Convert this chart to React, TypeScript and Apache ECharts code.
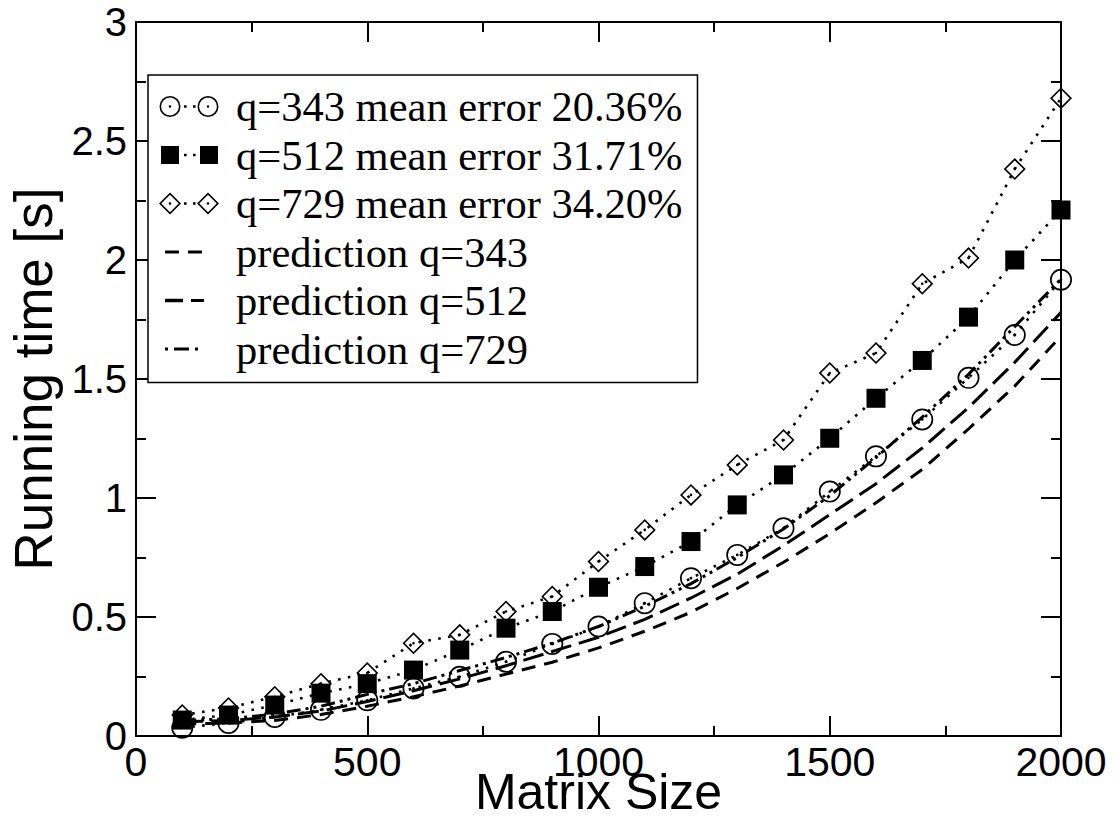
import React, { useEffect, useRef } from "react";
import * as echarts from "echarts";

const matrixSizes = [100, 200, 300, 400, 500, 600, 700, 800, 900, 1000, 1100, 1200, 1300, 1400, 1500, 1600, 1700, 1800, 1900, 2000];
const q343 = [0.035, 0.055, 0.08, 0.11, 0.15, 0.2, 0.249, 0.312, 0.387, 0.46, 0.558, 0.663, 0.761, 0.873, 1.027, 1.175, 1.33, 1.505, 1.685, 1.917];
const q512 = [0.067, 0.088, 0.13, 0.18, 0.22, 0.277, 0.361, 0.453, 0.523, 0.625, 0.712, 0.817, 0.971, 1.097, 1.251, 1.419, 1.578, 1.76, 2.0, 2.21];
const q729 = [0.088, 0.118, 0.165, 0.22, 0.265, 0.39, 0.425, 0.523, 0.586, 0.733, 0.866, 1.013, 1.139, 1.244, 1.525, 1.609, 1.9, 2.008, 2.382, 2.68];
const pred343 = [0.05, 0.055, 0.065, 0.09, 0.125, 0.165, 0.21, 0.26, 0.31, 0.37, 0.44, 0.52, 0.62, 0.73, 0.85, 0.98, 1.12, 1.29, 1.47, 1.68];
const pred512 = [0.06, 0.065, 0.08, 0.105, 0.145, 0.19, 0.24, 0.295, 0.355, 0.415, 0.49, 0.58, 0.68, 0.8, 0.93, 1.06, 1.21, 1.38, 1.57, 1.78];
const pred729 = [0.065, 0.072, 0.092, 0.125, 0.175, 0.22, 0.275, 0.33, 0.39, 0.46, 0.545, 0.64, 0.75, 0.87, 1.01, 1.17, 1.34, 1.52, 1.72, 1.92];

const seriesNames = [
  "q=343 mean error 20.36%",
  "q=512 mean error 31.71%",
  "q=729 mean error 34.20%",
  "prediction q=343",
  "prediction q=512",
  "prediction q=729",
];

// ---- symbol / icon shapes (styling only) ----
const ring = (cx: number, cy: number) =>
  `M${cx} ${cy - 10.5} A10.5 10.5 0 1 1 ${cx} ${cy + 10.5} A10.5 10.5 0 1 1 ${cx} ${cy - 10.5} Z ` +
  `M${cx} ${cy - 8.9} A8.9 8.9 0 1 0 ${cx} ${cy + 8.9} A8.9 8.9 0 1 0 ${cx} ${cy - 8.9} Z ` +
  `M${cx - 1.3} ${cy} A1.3 1.3 0 1 0 ${cx + 1.3} ${cy} A1.3 1.3 0 1 0 ${cx - 1.3} ${cy} Z`;
const diamond = (cx: number, cy: number) =>
  `M${cx} ${cy - 11} L${cx + 11} ${cy} L${cx} ${cy + 11} L${cx - 11} ${cy} Z ` +
  `M${cx} ${cy - 8.7} L${cx - 8.7} ${cy} L${cx} ${cy + 8.7} L${cx + 8.7} ${cy} Z ` +
  `M${cx - 1.3} ${cy} A1.3 1.3 0 1 0 ${cx + 1.3} ${cy} A1.3 1.3 0 1 0 ${cx - 1.3} ${cy} Z`;
const sq = (x0: number, y0: number, w: number, h: number) => `M${x0} ${y0} h${w} v${h} h${-w} Z `;
const specks = "M0 0 h0.05 v0.05 h-0.05 Z M71.95 21.95 h0.05 v0.05 h-0.05 Z ";
const dotsBetween = sq(25, 9.7, 2.6, 2.6) + sq(34, 9.7, 2.6, 2.6);

const iconCircle = "path://" + specks + ring(11, 11) + " " + dotsBetween + ring(49, 11);
const iconSquare = "path://" + specks + sq(2, 2, 18, 18) + dotsBetween + sq(41, 2, 18, 18);
const iconDiamond = "path://" + specks + diamond(11, 11) + " " + dotsBetween + diamond(49, 11);
const iconP343 = "path://" + specks + sq(6, 9.5, 14, 3) + sq(29, 9.5, 14, 3);
const iconP512 = "path://" + specks + sq(6, 9.3, 18, 3.4) + sq(32, 9.5, 13, 3);
const iconP729 = "path://" + specks + sq(6, 9.5, 3, 3) + sq(15, 9.5, 15, 3) + sq(36, 9.5, 3, 3);

const symCircle = "path://" + ring(11, 11);
const symDiamond = "path://" + diamond(11, 11);

const pairs = (ys: number[]) => matrixSizes.map((x, i) => [x, ys[i]]);

export default function App() {
  const ref = useRef<HTMLDivElement>(null);
  useEffect(() => {
    if (!ref.current) return;
    const chart = echarts.init(ref.current, null, { renderer: "svg" });
    const axisCommon = {
      type: "value" as const,
      axisLine: { show: true, onZero: false, lineStyle: { color: "#000", width: 2 } },
      axisTick: { show: true, inside: true, length: 20, lineStyle: { color: "#000", width: 2 } },
      minorTick: { show: true, splitNumber: 2, length: 10, lineStyle: { color: "#000", width: 2 } },
      splitLine: { show: false },
    };
    const dataLine = { color: "#000", width: 2.6, type: [2.6, 7.4] as any };
    chart.setOption({
      animation: false,
      backgroundColor: "#fff",
      grid: { left: 136, right: 55, top: 22, bottom: 85, containLabel: false, outerBoundsMode: "none" },
      xAxis: [
        {
          ...axisCommon,
          min: 0,
          max: 2000,
          interval: 500,
          position: "bottom",
          name: "Matrix Size",
          nameLocation: "middle",
          nameGap: 31,
          nameMoveOverlap: false,
          nameTextStyle: { fontFamily: "Liberation Sans", fontSize: 50, lineHeight: 50, color: "#000" },
          axisLabel: {
            margin: 8,
            fontFamily: "Liberation Sans",
            fontSize: 41,
            lineHeight: 36,
            color: "#000",
            formatter: (v: number) => String(v),
          },
        },
        {
          ...axisCommon,
          min: 0,
          max: 2000,
          interval: 500,
          position: "top",
          axisLabel: { show: false },
        },
      ],
      yAxis: [
        {
          ...axisCommon,
          min: 0,
          max: 3,
          interval: 0.5,
          position: "left",
          name: "Running time [s]",
          nameLocation: "middle",
          nameGap: 76,
          nameMoveOverlap: false,
          nameRotate: 90,
          nameTextStyle: { fontFamily: "Liberation Sans", fontSize: 53, color: "#000" },
          axisLabel: { margin: 9, fontFamily: "Liberation Sans", fontSize: 40, color: "#000" },
        },
        {
          ...axisCommon,
          min: 0,
          max: 3,
          interval: 0.5,
          position: "right",
          axisLabel: { show: false },
        },
      ],
      legend: {
        orient: "vertical",
        left: 148,
        top: 75,
        padding: [10, 15, 12, 11],
        itemWidth: 72,
        itemHeight: 22,
        itemGap: 5.5,
        backgroundColor: "#fff",
        borderColor: "#000",
        borderWidth: 1.5,
        borderRadius: 0,
        itemStyle: { color: "#000", borderWidth: 0 },
        textStyle: { fontFamily: "Liberation Serif", fontSize: 42.5, lineHeight: 42, color: "#000", padding: [0, 0, 0, 0] },
        data: [
          { name: seriesNames[0], icon: iconCircle },
          { name: seriesNames[1], icon: iconSquare },
          { name: seriesNames[2], icon: iconDiamond },
          { name: seriesNames[3], icon: iconP343 },
          { name: seriesNames[4], icon: iconP512 },
          { name: seriesNames[5], icon: iconP729 },
        ],
        selectedMode: false,
        z: 10,
      },
      series: [
        {
          name: seriesNames[3],
          type: "line",
          data: pairs(pred343),
          showSymbol: false,
          symbol: "none",
          lineStyle: { color: "#000", width: 3, type: [14, 9] },
          itemStyle: { color: "#000" },
        },
        {
          name: seriesNames[4],
          type: "line",
          data: pairs(pred512),
          showSymbol: false,
          symbol: "none",
          lineStyle: { color: "#000", width: 3, type: [21, 8] },
          itemStyle: { color: "#000" },
        },
        {
          name: seriesNames[5],
          type: "line",
          data: pairs(pred729),
          showSymbol: false,
          symbol: "none",
          lineStyle: { color: "#000", width: 3, type: [14, 5, 3, 5, 3, 5] },
          itemStyle: { color: "#000" },
        },
        {
          name: seriesNames[0],
          type: "line",
          data: pairs(q343),
          symbol: symCircle,
          symbolSize: 22,
          symbolKeepAspect: true,
          lineStyle: dataLine,
          itemStyle: { color: "#000", borderWidth: 0 },
        },
        {
          name: seriesNames[1],
          type: "line",
          data: pairs(q512),
          symbol: "rect",
          symbolSize: 19,
          lineStyle: dataLine,
          itemStyle: { color: "#000", borderWidth: 0 },
        },
        {
          name: seriesNames[2],
          type: "line",
          data: pairs(q729),
          symbol: symDiamond,
          symbolSize: 22,
          symbolKeepAspect: true,
          lineStyle: dataLine,
          itemStyle: { color: "#000", borderWidth: 0 },
        },
      ],
    });
    return () => chart.dispose();
  }, []);
  return (
    <div
      ref={ref}
      style={{ position: "absolute", left: 0, top: 0, width: 1116, height: 821 }}
    />
  );
}
